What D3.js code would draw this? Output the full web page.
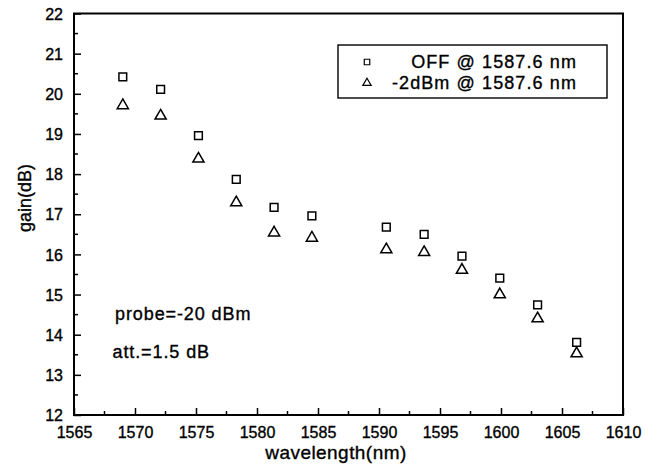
<!DOCTYPE html>
<html><head><meta charset="utf-8">
<script src="https://cdn.jsdelivr.net/npm/d3@7"></script>
<style>body{margin:0;background:#fff}svg{display:block}text{font-family:"Liberation Sans",Arial,sans-serif;fill:#000;stroke:#000;stroke-width:0.35px}</style>
</head><body>
<script>
const wavelength = [1569.0, 1572.1, 1575.2, 1578.3, 1581.4, 1584.5, 1590.6, 1593.7, 1596.8, 1599.9, 1603.0, 1606.2];
const gainOff = [20.42, 20.11, 18.96, 17.87, 17.17, 16.96, 16.68, 16.50, 15.96, 15.41, 14.74, 13.81];
const gainMinus2 = [19.71, 19.45, 18.38, 17.29, 16.54, 16.41, 16.12, 16.05, 15.61, 15.00, 14.40, 13.53];
const xTicks = [1565, 1570, 1575, 1580, 1585, 1590, 1595, 1600, 1605, 1610];
const yTicks = [12, 13, 14, 15, 16, 17, 18, 19, 20, 21, 22];
const legendLabels = ["OFF @ 1587.6 nm", "-2dBm @ 1587.6 nm"];
const notes = ["probe=-20 dBm", "att.=1.5 dB"];

const W = 650, H = 464;
const m = {left: 74, right: 27, top: 13.5, bottom: 49};
const svg = d3.select("body").append("svg").attr("width", W).attr("height", H);
const x = d3.scaleLinear().domain([1565, 1610]).range([m.left, W - m.right]);
const y = d3.scaleLinear().domain([12, 22]).range([H - m.bottom, m.top]);

// minor ticks
const xMinor = d3.range(1567.5, 1610, 5);
const yMinor = d3.range(12.5, 22, 1);
svg.append("g").selectAll("line").data(xMinor).join("line")
  .attr("x1", d => x(d)).attr("x2", d => x(d)).attr("y1", y(12)).attr("y2", y(12) - 4)
  .attr("stroke", "#000").attr("stroke-width", 1.5);
svg.append("g").selectAll("line").data(yMinor).join("line")
  .attr("y1", d => y(d)).attr("y2", d => y(d)).attr("x1", x(1565)).attr("x2", x(1565) + 4)
  .attr("stroke", "#000").attr("stroke-width", 1.5);

const xAxis = svg.append("g").attr("transform", `translate(0,${y(12)})`)
  .call(d3.axisBottom(x).tickValues(xTicks).tickSize(-7).tickPadding(11.5).tickFormat(d3.format("d")));
const yAxis = svg.append("g").attr("transform", `translate(${x(1565)},0)`)
  .call(d3.axisLeft(y).tickValues(yTicks).tickSize(-7).tickPadding(11).tickFormat(d3.format("d")));
[xAxis, yAxis].forEach(g => {
  g.select(".domain").remove();
  g.selectAll(".tick line").attr("stroke", "#000").attr("stroke-width", 1.5);
  g.selectAll(".tick text").attr("font-size", 16).attr("font-family", '"Liberation Sans",Arial,sans-serif')
    .attr("fill", "#000").attr("stroke", "#000").attr("stroke-width", 0.35);
});
yAxis.selectAll(".tick text").attr("dy", "0.35em");

// frame
svg.append("rect").attr("x", x(1565)).attr("y", y(22))
  .attr("width", x(1610) - x(1565)).attr("height", y(12) - y(22))
  .attr("fill", "none").attr("stroke", "#000").attr("stroke-width", 2);

// axis titles
svg.append("text").attr("x", 336).attr("y", 458.5)
  .attr("text-anchor", "middle").attr("font-size", 19).attr("letter-spacing", 0.45).text("wavelength(nm)");
svg.append("text").attr("transform", "translate(31,198) rotate(-90)")
  .attr("text-anchor", "middle").attr("font-size", 18).text("gain(dB)");

// markers
const sq = d3.symbol().type(d3.symbolSquare).size(60);
const tri = d3.symbol().type(d3.symbolTriangle).size(54);
svg.append("g").selectAll("path").data(wavelength).join("path")
  .attr("d", sq).attr("transform", (d, i) => `translate(${x(d)},${y(gainOff[i])})`)
  .attr("fill", "none").attr("stroke", "#000").attr("stroke-width", 1.5);
svg.append("g").selectAll("path").data(wavelength).join("path")
  .attr("d", tri).attr("transform", (d, i) => `translate(${x(d)},${y(gainMinus2[i])})`)
  .attr("fill", "none").attr("stroke", "#000").attr("stroke-width", 1.5);

// legend
const lg = svg.append("g");
lg.append("rect").attr("x", 338).attr("y", 45).attr("width", 269).attr("height", 53)
  .attr("fill", "#fff").attr("stroke", "#000").attr("stroke-width", 1.4);
lg.append("path").attr("d", d3.symbol().type(d3.symbolSquare).size(30)).attr("transform", "translate(367,62)")
  .attr("fill", "none").attr("stroke", "#000").attr("stroke-width", 1.2);
lg.append("path").attr("d", d3.symbol().type(d3.symbolTriangle).size(30)).attr("transform", "translate(367,83)")
  .attr("fill", "none").attr("stroke", "#000").attr("stroke-width", 1.2);
lg.selectAll("text").data(legendLabels).join("text")
  .attr("x", 577).attr("y", (d, i) => 68 + i * 21).attr("text-anchor", "end")
  .attr("font-size", 18).attr("letter-spacing", 1.1).text(d => d);

// notes
svg.selectAll("text.note").data(notes).join("text").attr("class", "note")
  .attr("x", (d, i) => i === 0 ? 115 : 112.5).attr("y", (d, i) => i === 0 ? 320 : 358)
  .attr("font-size", 18).attr("letter-spacing", 0.9).text(d => d);
</script>
</body></html>
